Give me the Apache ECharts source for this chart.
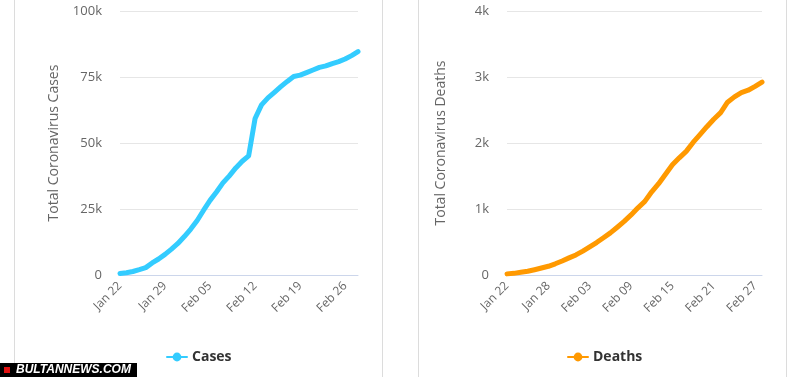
<!DOCTYPE html>
<html>
<head>
<meta charset="utf-8">
<script src="https://cdn.jsdelivr.net/npm/echarts@6/dist/echarts.min.js"></script>
<style>
  html, body { margin: 0; padding: 0; background: #fff; }
  #chart { width: 800px; height: 377px; }
</style>
</head>
<body>
<div id="chart"></div>
<script>
// dates Jan 22 .. Feb 28
var days = ['Jan 22','Jan 23','Jan 24','Jan 25','Jan 26','Jan 27','Jan 28','Jan 29','Jan 30','Jan 31',
  'Feb 01','Feb 02','Feb 03','Feb 04','Feb 05','Feb 06','Feb 07','Feb 08','Feb 09','Feb 10',
  'Feb 11','Feb 12','Feb 13','Feb 14','Feb 15','Feb 16','Feb 17','Feb 18','Feb 19','Feb 20',
  'Feb 21','Feb 22','Feb 23','Feb 24','Feb 25','Feb 26','Feb 27','Feb 28'];

var cases = [580, 845, 1317, 2015, 2800, 4581, 6058, 7813, 9823, 11950,
  14553, 17391, 20630, 24545, 28266, 31439, 34876, 37552, 40553, 43099,
  45134, 59287, 64438, 67100, 69197, 71329, 73332, 75184, 75700, 76677,
  77673, 78651, 79205, 80087, 80828, 81820, 83112, 84615];

var deaths = [17, 25, 41, 56, 80, 106, 132, 170, 213, 259,
  304, 362, 426, 492, 565, 638, 724, 813, 910, 1018,
  1115, 1261, 1383, 1526, 1669, 1775, 1873, 2009, 2126, 2247,
  2360, 2460, 2618, 2699, 2763, 2800, 2858, 2923];

var casesTicks = [0, 25000, 50000, 75000, 100000];
var deathsTicks = [0, 1000, 2000, 3000, 4000];

var kFmt = function(v){ return v === 0 ? '0' : (v / 1000) + 'k'; };

var chart = echarts.init(document.getElementById('chart'));

function xAxisFor(idx, step){
  return {
    type: 'category', gridIndex: idx, data: days, boundaryGap: false,
    axisLine: { lineStyle: { color: '#ccd6eb' } },
    axisTick: { show: false },
    axisLabel: {
      interval: step - 1, rotate: 45, color: '#666', fontSize: 12,
      fontFamily: 'Open Sans', margin: 9
    },
    splitLine: { show: false }
  };
}

function yAxisFor(idx, ticks, title){
  return {
    type: 'value', gridIndex: idx, min: ticks[0], max: ticks[ticks.length - 1],
    interval: ticks[1] - ticks[0],
    name: title, nameLocation: 'middle', nameGap: 59, nameRotate: 90,
    nameTextStyle: { color: '#666', fontSize: 14, fontFamily: 'Open Sans' },
    axisLine: { show: false }, axisTick: { show: false },
    axisLabel: { formatter: kFmt, color: '#666', fontSize: 13, fontFamily: 'Open Sans', margin: 18 },
    splitLine: { lineStyle: { color: '#e6e6e6' } }
  };
}

var legendText = { color: '#333', fontSize: 14, fontWeight: 'bold', fontFamily: 'Open Sans' };

chart.setOption({
  animation: false,
  grid: [
    { left: 120, right: 442, top: 11, bottom: 102 },
    { left: 507, right: 38, top: 11, bottom: 102 }
  ],
  xAxis: [xAxisFor(0, 7), xAxisFor(1, 6)],
  yAxis: [
    yAxisFor(0, casesTicks, 'Total Coronavirus Cases'),
    yAxisFor(1, deathsTicks, 'Total Coronavirus Deaths')
  ],
  legend: [
    { data: ['Cases'], left: 161, top: 345, itemWidth: 20, itemHeight: 11, itemGap: 5,
      textStyle: legendText },
    { data: ['Deaths'], left: 562, top: 345, itemWidth: 20, itemHeight: 11, itemGap: 5,
      textStyle: legendText }
  ],
  series: [
    { name: 'Cases', type: 'line', xAxisIndex: 0, yAxisIndex: 0, data: cases,
      symbol: 'circle', showSymbol: false, color: '#33ccff',
      lineStyle: { width: 5, cap: 'round', join: 'round' } },
    { name: 'Deaths', type: 'line', xAxisIndex: 1, yAxisIndex: 1, data: deaths,
      symbol: 'circle', showSymbol: false, color: '#ff9900',
      lineStyle: { width: 5, cap: 'round', join: 'round' } }
  ],
  graphic: [
    { type: 'rect', shape: { x: 14.5, y: -5, width: 368, height: 400 },
      style: { fill: 'none', stroke: '#dcdcdc', lineWidth: 1 }, silent: true },
    { type: 'rect', shape: { x: 418.5, y: -5, width: 368, height: 400 },
      style: { fill: 'none', stroke: '#dcdcdc', lineWidth: 1 }, silent: true },
    { type: 'rect', shape: { x: 0, y: 363, width: 137, height: 14 },
      style: { fill: '#000' }, z: 100 },
    { type: 'rect', shape: { x: 4, y: 367, width: 6, height: 6 },
      style: { fill: '#e01010' }, z: 101 },
    { type: 'text', x: 16, y: 364, z: 101,
      style: { text: 'BULTANNEWS.COM', fill: '#fff', fontSize: 12, fontWeight: 'bold',
        fontStyle: 'italic', fontFamily: 'Liberation Sans', textVerticalAlign: 'top' } }
  ]
});
</script>
</body>
</html>
